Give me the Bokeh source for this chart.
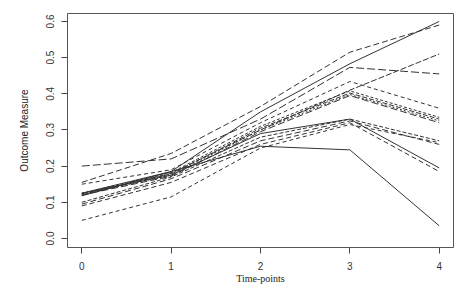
from bokeh.plotting import figure
from bokeh.embed import file_html
from bokeh.resources import INLINE
from bokeh.models import Range1d, FixedTicker, NumeralTickFormatter

time_points = [0, 1, 2, 3, 4]
s01 = [0.155, 0.235, 0.365, 0.515, 0.590]
s02 = [0.125, 0.185, 0.350, 0.483, 0.600]
s03 = [0.200, 0.220, 0.330, 0.473, 0.455]
s04 = [0.150, 0.190, 0.320, 0.434, 0.360]
s05 = [0.120, 0.180, 0.300, 0.410, 0.510]
s06 = [0.125, 0.182, 0.310, 0.408, 0.335]
s07 = [0.124, 0.178, 0.305, 0.402, 0.330]
s08 = [0.122, 0.175, 0.300, 0.398, 0.325]
s09 = [0.120, 0.172, 0.295, 0.395, 0.320]
s10 = [0.100, 0.170, 0.280, 0.330, 0.270]
s11 = [0.095, 0.165, 0.270, 0.325, 0.260]
s12 = [0.125, 0.175, 0.290, 0.330, 0.195]
s13 = [0.090, 0.155, 0.260, 0.320, 0.185]
s14 = [0.118, 0.185, 0.255, 0.245, 0.035]
s15 = [0.050, 0.115, 0.250, 0.315, 0.265]
series = [s01, s02, s03, s04, s05, s06, s07, s08, s09, s10, s11, s12, s13, s14, s15]
dashes = ["6 3", "solid", "8 3", "4 3", "6 2", "3 2", "5 2", "2 2", "7 3",
          "4 2", "6 3", "solid", "5 3", "solid", "4 3"]

y_ticks = [0.0, 0.1, 0.2, 0.3, 0.4, 0.5, 0.6]
x_ticks = [0, 1, 2, 3, 4]

p = figure(width=474, height=296, output_backend="svg", toolbar_location=None,
           x_range=Range1d(-0.16, 4.16), y_range=Range1d(-0.025, 0.622),
           min_border_left=67, min_border_right=21, min_border_top=13, min_border_bottom=49)
p.background_fill_color = "white"
p.border_fill_color = "white"
p.outline_line_color = "#555555"
p.outline_line_width = 1
p.xgrid.visible = False
p.ygrid.visible = False

for s, d in zip(series, dashes):
    p.line(time_points, s, line_color="#333333", line_width=1, line_dash=d)

for ax in (p.xaxis[0], p.yaxis[0]):
    ax.axis_line_color = None
    ax.major_tick_out = 6
    ax.major_tick_in = 0
    ax.major_tick_line_color = "#444444"
    ax.minor_tick_line_color = None
    ax.major_label_text_font = "Liberation Sans"
    ax.major_label_text_font_size = "10px"
    ax.major_label_text_color = "#333333"
    ax.axis_label_text_font_style = "normal"
    ax.axis_label_text_color = "#222222"

p.xaxis.ticker = FixedTicker(ticks=x_ticks)
p.yaxis.ticker = FixedTicker(ticks=y_ticks)
p.yaxis.formatter = NumeralTickFormatter(format="0.0")
p.yaxis.major_label_orientation = "vertical"
p.yaxis.major_label_standoff = 7
p.xaxis.major_label_standoff = 8

p.yaxis.axis_label = "Outcome Measure"
p.yaxis.axis_label_text_font = "Liberation Sans"
p.yaxis.axis_label_text_font_size = "10px"
p.yaxis.axis_label_standoff = 14

p.xaxis.axis_label = "Time-points"
p.xaxis.axis_label_text_font = "Liberation Serif"
p.xaxis.axis_label_text_font_size = "10px"
p.xaxis.axis_label_standoff = 0

open("out.html", "w").write(file_html(p, INLINE))
